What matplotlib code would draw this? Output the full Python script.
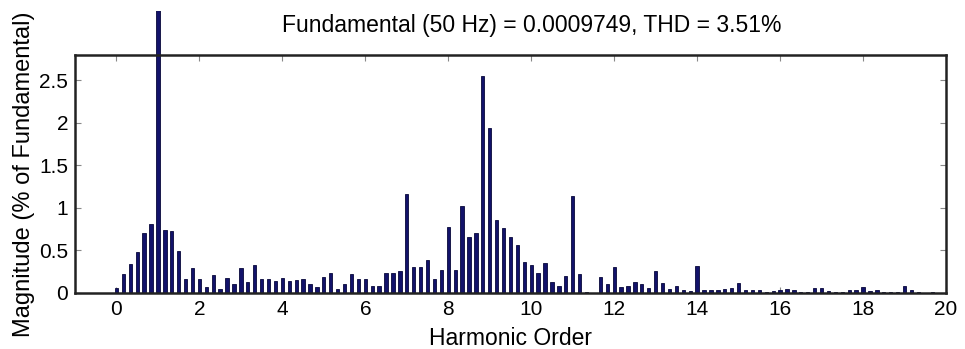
import matplotlib
matplotlib.use("Agg")
import matplotlib.pyplot as plt
import numpy as np
from matplotlib.patches import Rectangle

plt.rcParams["font.family"] = ["Liberation Sans", "DejaVu Sans"]

NAVY = "#12126a"
EDGE = "#08083a"

# spectrum bins: one bar every 1/6 of a harmonic order (8.33 Hz), orders 0..20
bin_step = 1 / 6
magnitude = [
    0.06, 0.22, 0.345, 0.48, 0.71, 0.81, 100.0, 0.74, 0.73, 0.49,   # k 0-9
    0.16, 0.29, 0.165, 0.07, 0.21, 0.05, 0.18, 0.10, 0.29, 0.13,    # k 10-19
    0.325, 0.17, 0.17, 0.14, 0.18, 0.14, 0.15, 0.16, 0.10, 0.07,    # k 20-29
    0.19, 0.24, 0.05, 0.10, 0.22, 0.165, 0.165, 0.08, 0.08, 0.24,   # k 30-39
    0.24, 0.255, 1.16, 0.31, 0.30, 0.39, 0.165, 0.27, 0.78, 0.27,   # k 40-49
    1.02, 0.66, 0.71, 2.55, 1.945, 0.86, 0.76, 0.66, 0.56, 0.36,    # k 50-59
    0.33, 0.235, 0.35, 0.13, 0.085, 0.20, 1.14, 0.22, 0.01, 0.0,    # k 60-69
    0.19, 0.10, 0.30, 0.07, 0.085, 0.13, 0.10, 0.06, 0.255, 0.12,   # k 70-79
    0.05, 0.08, 0.04, 0.02, 0.32, 0.04, 0.03, 0.03, 0.05, 0.06,     # k 80-89
    0.12, 0.03, 0.04, 0.03, 0.01, 0.02, 0.04, 0.05, 0.04, 0.01,     # k 90-99
    0.01, 0.06, 0.06, 0.02, 0.01, 0.01, 0.03, 0.04, 0.07, 0.02,     # k 100-109
    0.03, 0.01, 0.01, 0.01, 0.08, 0.04, 0.01, 0.0, 0.01, 0.0,       # k 110-119
    0.0,                                                             # k 120
]
order = np.arange(len(magnitude)) * bin_step

title = "Fundamental (50 Hz) = 0.0009749, THD = 3.51%"

fig = plt.figure(figsize=(9.65, 3.49), dpi=100, facecolor="white")
ax = fig.add_axes([0.0777, 0.1605, 0.9026, 0.682])

bars = ax.bar(order, magnitude, width=0.08, color=NAVY, edgecolor=EDGE,
              linewidth=0.6, zorder=3)
# MATLAB lets the fundamental poke out above the box; clip a bit higher
clip = Rectangle((0, 0), 1, 1.185, transform=ax.transAxes, visible=False)
ax.add_patch(clip)
for b in bars:
    b.set_clip_path(clip)

ax.set_xlim(-1, 20)
ax.set_ylim(0, 2.8)
ax.set_xticks(np.arange(0, 21, 2))
ax.set_yticks([0, 0.5, 1, 1.5, 2, 2.5])
ax.set_yticklabels(["0", "0.5", "1", "1.5", "2", "2.5"])
ax.tick_params(direction="in", length=4, width=0.8, color="#888888",
               top=True, right=True, labelsize=15, pad=5)
for s in ax.spines.values():
    s.set_linewidth(1.8)
    s.set_color("#222222")
    s.set_zorder(4)

ax.set_xlabel("Harmonic Order", fontsize=16.5, labelpad=6)
ax.set_ylabel("Magnitude (% of Fundamental)", fontsize=17, labelpad=3)
fig.text(0.551, 0.928, title, ha="center", va="center", fontsize=16.5)

fig.savefig("out.png", dpi=100, facecolor="white")
